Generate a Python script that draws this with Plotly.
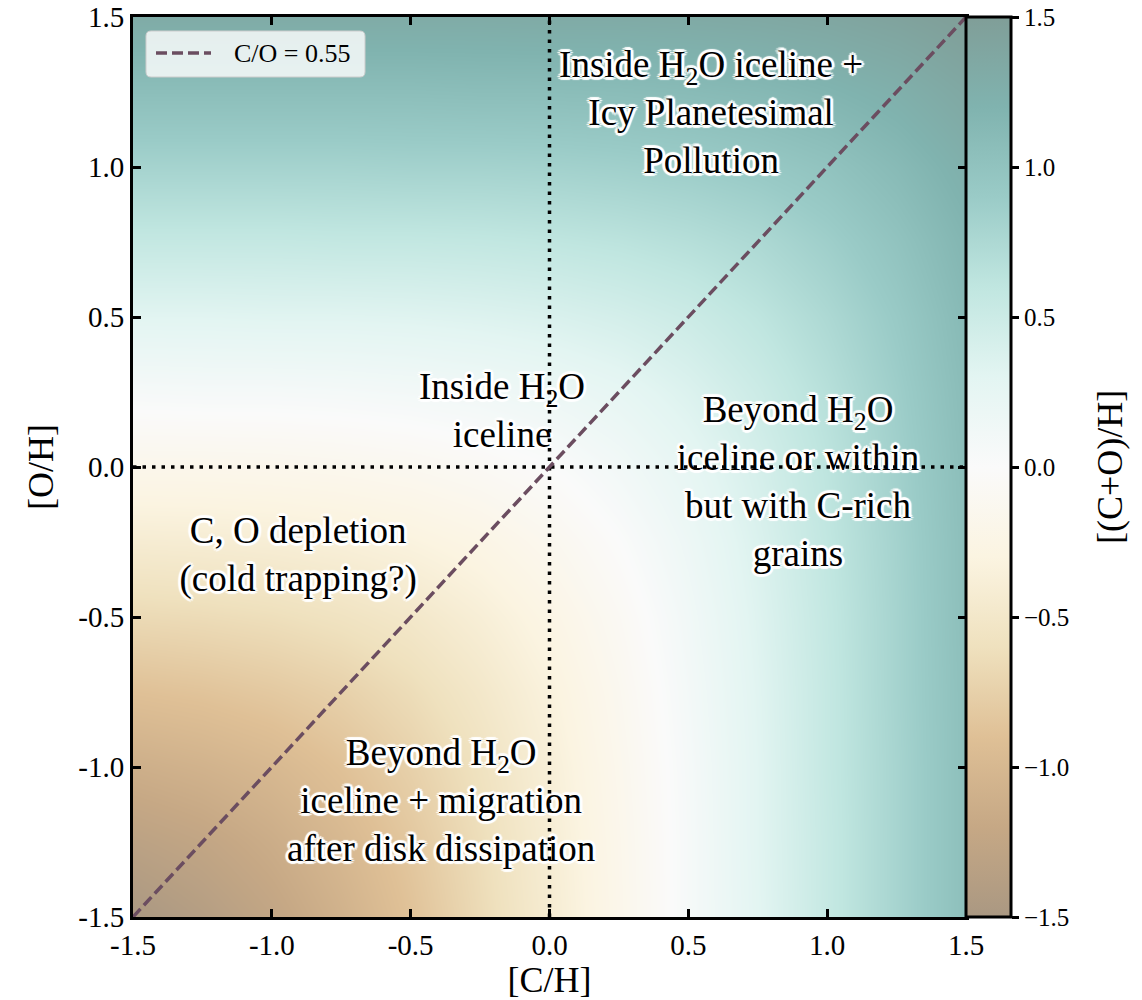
import plotly.graph_objects as go

# Abundance grid (dex, relative to solar)
ch_grid = [-1.5, -1.25, -1.0, -0.75, -0.5, -0.25, 0.0, 0.25, 0.5, 0.75, 1.0, 1.25, 1.5]
oh_grid = [-1.5, -1.25, -1.0, -0.75, -0.5, -0.25, 0.0, 0.25, 0.5, 0.75, 1.0, 1.25, 1.5]

# [(C+O)/H] at every node: one row per [O/H], one column per [C/H]
cplus_o_h = [
    [-1.50, -1.39, -1.25, -1.08, -0.88, -0.66, -0.43, -0.19, 0.06, 0.30, 0.55, 0.80, 1.05],
    [-1.32, -1.25, -1.14, -1.00, -0.83, -0.63, -0.41, -0.18, 0.06, 0.31, 0.55, 0.80, 1.05],
    [-1.12, -1.07, -1.00, -0.89, -0.75, -0.58, -0.38, -0.16, 0.07, 0.31, 0.56, 0.80, 1.05],
    [-0.90, -0.87, -0.82, -0.75, -0.64, -0.50, -0.33, -0.13, 0.09, 0.32, 0.56, 0.81, 1.05],
    [-0.67, -0.65, -0.62, -0.57, -0.50, -0.39, -0.25, -0.08, 0.12, 0.34, 0.57, 0.81, 1.06],
    [-0.43, -0.42, -0.40, -0.37, -0.32, -0.25, -0.14, 0.00, 0.17, 0.37, 0.59, 0.82, 1.06],
    [-0.18, -0.18, -0.17, -0.15, -0.12, -0.07, 0.00, 0.11, 0.25, 0.42, 0.62, 0.84, 1.07],
    [0.06, 0.07, 0.07, 0.08, 0.10, 0.13, 0.18, 0.25, 0.36, 0.50, 0.67, 0.87, 1.09],
    [0.31, 0.31, 0.32, 0.32, 0.33, 0.35, 0.38, 0.43, 0.50, 0.61, 0.75, 0.92, 1.12],
    [0.56, 0.56, 0.56, 0.57, 0.57, 0.58, 0.60, 0.63, 0.68, 0.75, 0.86, 1.00, 1.17],
    [0.81, 0.81, 0.81, 0.81, 0.82, 0.82, 0.83, 0.85, 0.88, 0.93, 1.00, 1.11, 1.25],
    [1.06, 1.06, 1.06, 1.06, 1.06, 1.07, 1.07, 1.08, 1.10, 1.13, 1.18, 1.25, 1.36],
    [1.31, 1.31, 1.31, 1.31, 1.31, 1.31, 1.32, 1.32, 1.33, 1.35, 1.38, 1.43, 1.50],
]

# Solar C/O track: [C/H] = [O/H]
solar_track_ch = [-1.5, 1.5]
solar_track_oh = [-1.5, 1.5]
solar_co_label = "C/O = 0.55"

# Tick positions and labels
tick_vals = [-1.5, -1.0, -0.5, 0.0, 0.5, 1.0, 1.5]
axis_tick_text = ["-1.5", "-1.0", "-0.5", "0.0", "0.5", "1.0", "1.5"]
cbar_tick_text = ["\u22121.5", "\u22121.0", "\u22120.5", "0.0", "0.5", "1.0", "1.5"]

# Formation-scenario labels and their centres
region_text = [
    "Inside H<sub>2</sub>O iceline +<br>Icy Planetesimal<br>Pollution",
    "Inside H<sub>2</sub>O<br>iceline",
    "Beyond H<sub>2</sub>O<br>iceline or within<br>but with C-rich<br>grains",
    "C, O depletion<br>(cold trapping?)",
    "Beyond H<sub>2</sub>O<br>iceline + migration<br>after disk dissipation",
]
region_ch = [0.582, -0.171, 0.895, -0.905, -0.39]
region_oh = [1.171, 0.177, -0.06, -0.302, -1.123]

SERIF = "Liberation Serif, Times New Roman, Times, serif"

# Brown-to-teal diverging scale, washed halfway towards white
colorscale = [
    [0.0, "rgb(170,152,130)"],
    [0.1, "rgb(198,168,133)"],
    [0.2, "rgb(223,192,150)"],
    [0.3, "rgb(239,225,190)"],
    [0.4, "rgb(251,244,225)"],
    [0.5, "rgb(250,250,250)"],
    [0.6, "rgb(227,245,242)"],
    [0.7, "rgb(192,230,224)"],
    [0.8, "rgb(154,203,199)"],
    [0.9, "rgb(128,179,175)"],
    [1.0, "rgb(128,158,152)"],
]

halo = ", ".join(
    f"{dx}px {dy}px 1px white"
    for dx, dy in [(3, 0), (-3, 0), (0, 3), (0, -3), (2, 2), (-2, 2), (2, -2), (-2, -2)]
)

# Plot-area edges in pixels
L, R, T, B = 133, 966, 17, 917
W, H = 1142, 1000


def px_x(px):
    return -1.5 + (px - L) / (R - L) * 3


def px_y(py):
    return 1.5 - (py - T) / (B - T) * 3


fig = go.Figure()

fig.add_trace(go.Heatmap(
    x=ch_grid, y=oh_grid, z=cplus_o_h,
    zmin=-1.5, zmax=1.5, zsmooth="best",
    colorscale=colorscale, hoverinfo="skip",
    colorbar=dict(
        thickness=45, thicknessmode="pixels",
        len=1, lenmode="fraction",
        x=1, xanchor="left", xpad=0,
        y=0.5, yanchor="middle", ypad=0,
        outlinewidth=3, outlinecolor="black",
        tickmode="array", tickvals=tick_vals, ticktext=cbar_tick_text,
        ticks="outside", ticklen=7, tickwidth=2.5, tickcolor="black",
        tickfont=dict(family=SERIF, size=25, color="black"),
    ),
))

# Scenario labels (white halo), drawn beneath the guide lines
fig.add_trace(go.Scatter(
    x=region_ch, y=region_oh, text=region_text, mode="text",
    textposition="middle center",
    textfont=dict(family=SERIF, size=37, color="black", shadow=halo),
    hoverinfo="skip", showlegend=False,
))

# Solar reference lines
dotted = dict(color="black", width=3.5, dash="3.5px,6px")
fig.add_trace(go.Scatter(x=[0, 0], y=[-1.5, 1.5], mode="lines", line=dotted,
                         hoverinfo="skip", showlegend=False))
fig.add_trace(go.Scatter(x=[-1.5, 1.5], y=[0, 0], mode="lines", line=dotted,
                         hoverinfo="skip", showlegend=False))

track_color = "#6b4d60"
track_dash = "11px,5px"
fig.add_trace(go.Scatter(
    x=solar_track_ch, y=solar_track_oh, mode="lines",
    line=dict(color=track_color, width=3.5, dash=track_dash),
    name=solar_co_label, hoverinfo="skip", showlegend=False,
))

# Legend box in the upper-left corner
bx0, bx1, by0, by1, rad = 146, 365, 31, 77, 5
box_path = (
    f"M {px_x(bx0 + rad)},{px_y(by0)} L {px_x(bx1 - rad)},{px_y(by0)} "
    f"Q {px_x(bx1)},{px_y(by0)} {px_x(bx1)},{px_y(by0 + rad)} "
    f"L {px_x(bx1)},{px_y(by1 - rad)} "
    f"Q {px_x(bx1)},{px_y(by1)} {px_x(bx1 - rad)},{px_y(by1)} "
    f"L {px_x(bx0 + rad)},{px_y(by1)} "
    f"Q {px_x(bx0)},{px_y(by1)} {px_x(bx0)},{px_y(by1 - rad)} "
    f"L {px_x(bx0)},{px_y(by0 + rad)} "
    f"Q {px_x(bx0)},{px_y(by0)} {px_x(bx0 + rad)},{px_y(by0)} Z"
)
fig.add_shape(type="path", path=box_path, xref="x", yref="y", layer="above",
              fillcolor="rgba(255,255,255,0.8)", line=dict(color="rgb(204,204,204)", width=1))
fig.add_shape(type="line", xref="x", yref="y", layer="above",
              x0=px_x(156), x1=px_x(211), y0=px_y(53), y1=px_y(53),
              line=dict(color=track_color, width=3.5, dash=track_dash))
fig.add_annotation(x=px_x(232), y=px_y(53), xref="x", yref="y",
                   text=solar_co_label, showarrow=False, xanchor="left", yanchor="middle",
                   font=dict(family=SERIF, size=26, color="black"))

# Colour-bar title, set to the right of the tick labels
fig.add_annotation(x=(1110 - L) / (R - L), y=0.5, xref="paper", yref="paper",
                   text="[(C+O)/H]", textangle=-90, showarrow=False,
                   xanchor="center", yanchor="middle",
                   font=dict(family=SERIF, size=36, color="black"))

axis_common = dict(
    range=[-1.5, 1.5], tickmode="array", tickvals=tick_vals, ticktext=axis_tick_text,
    ticks="inside", ticklen=8, tickwidth=2.5, tickcolor="black",
    showline=True, linewidth=3, linecolor="black", mirror="ticks",
    showgrid=False, zeroline=False,
    tickfont=dict(family=SERIF, size=29, color="black"),
)

fig.update_layout(
    width=W, height=H,
    margin=dict(l=L, r=W - R, t=T, b=H - B, autoexpand=False),
    paper_bgcolor="white", plot_bgcolor="white",
    font=dict(family=SERIF, color="black"),
    showlegend=False,
    xaxis=dict(axis_common,
               title=dict(text="[C/H]", font=dict(family=SERIF, size=36), standoff=22)),
    yaxis=dict(axis_common,
               title=dict(text="[O/H]", font=dict(family=SERIF, size=36), standoff=14)),
)

fig.write_html("out.html")
